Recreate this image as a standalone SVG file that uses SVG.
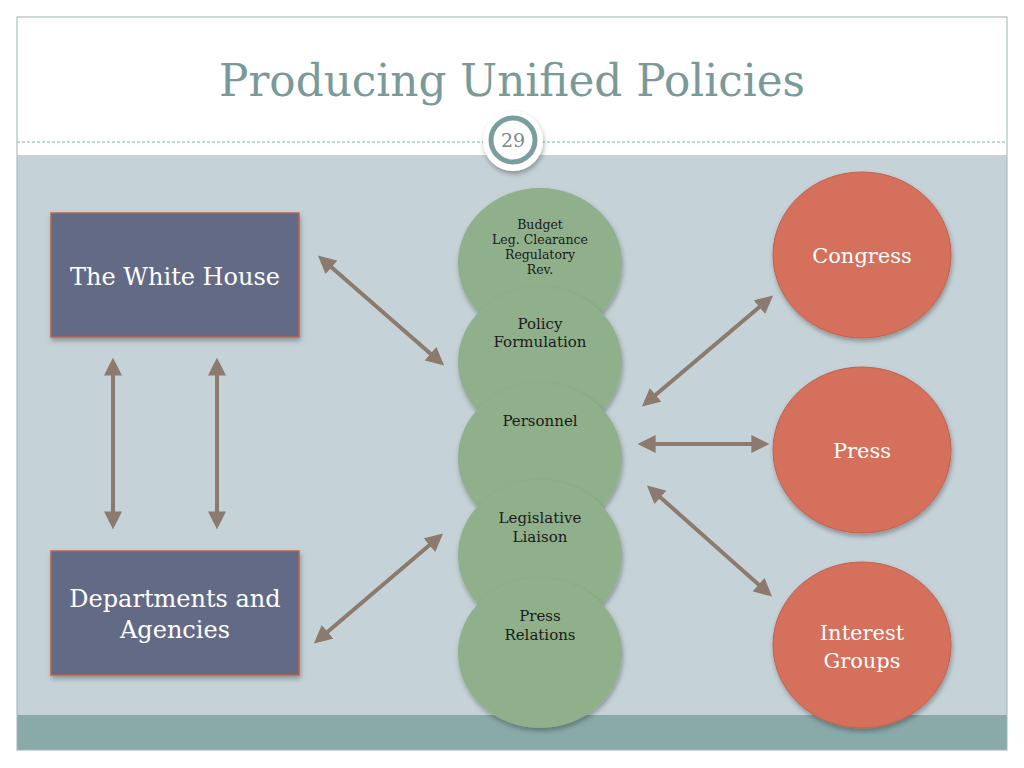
<svg xmlns="http://www.w3.org/2000/svg" width="1024" height="768" viewBox="0 0 1024 768">
<defs>
<style>
.box{fill:#636a86;stroke:#c0614a;stroke-width:1.5}
.green{fill:#8fb08a}
.red{fill:#d4705c;stroke:#c4604c;stroke-width:1}
.gt{font-family:"DejaVu Serif","Noto Serif",serif;fill:#1a1a1a;text-anchor:middle}
.wt{font-family:"DejaVu Serif","Noto Serif",serif;fill:#ffffff;text-anchor:middle}
.conn{stroke:#8c7a6f;stroke-width:4;fill:none;marker-start:url(#ah);marker-end:url(#ah)}
</style>
<marker id="ah" viewBox="0 0 10 10" refX="7" refY="5" markerWidth="4.5" markerHeight="4.5" orient="auto-start-reverse" markerUnits="strokeWidth">
<path d="M0,0 L10,5 L0,10 Z" fill="#8c7a6f"/>
</marker>
<filter id="sh" x="-20%" y="-20%" width="140%" height="140%">
<feDropShadow dx="1" dy="3" stdDeviation="2.5" flood-color="#000" flood-opacity="0.3"/>
</filter>
<filter id="sh2" x="-20%" y="-20%" width="140%" height="140%">
<feDropShadow dx="0" dy="-1" stdDeviation="1.5" flood-color="#000" flood-opacity="0.15"/>
</filter>
</defs>
<rect x="0" y="0" width="1024" height="768" fill="#ffffff"/>
<rect x="17" y="155" width="990" height="560" fill="#c5d3d9"/>
<rect x="17" y="715" width="990" height="35" fill="#8aaaaa"/>
<rect x="17" y="17" width="990" height="733" fill="none" stroke="#9fb5b5" stroke-width="1"/>
<line x1="17" y1="142" x2="1007" y2="142" stroke="#8aaaaa" stroke-width="1" stroke-dasharray="3,2"/>
<text x="512" y="96" font-family="DejaVu Serif, Noto Serif, serif" font-size="44" fill="#7a9a9a" text-anchor="middle" textLength="586" lengthAdjust="spacingAndGlyphs">Producing Unified Policies</text>
<g id="slide-number">
<circle cx="513" cy="141" r="30" fill="#ffffff" filter="url(#sh)"/>
<circle cx="513" cy="140" r="22" fill="#ffffff" stroke="#7a9e9e" stroke-width="5"/>
<text x="513" y="147" font-family="DejaVu Serif, serif" font-size="19" fill="#7a8a8a" text-anchor="middle">29</text>
</g>
<g id="connectors">
<line class="conn" x1="322" y1="259" x2="440" y2="362"/>
<line class="conn" x1="113" y1="363" x2="113" y2="524"/>
<line class="conn" x1="217" y1="363" x2="217" y2="524"/>
<line class="conn" x1="318" y1="640" x2="439" y2="537"/>
<line class="conn" x1="769" y1="299" x2="646" y2="403"/>
<line class="conn" x1="643" y1="444" x2="764" y2="444"/>
<line class="conn" x1="651" y1="489" x2="768" y2="593"/>
</g>
<g id="white-house">
<rect class="box" x="51" y="213" width="248" height="124" filter="url(#sh)"/>
<text class="wt" x="175" y="285" font-size="24">The White House</text>
</g>
<g id="departments">
<rect class="box" x="51" y="551" width="248" height="124" filter="url(#sh)"/>
<text class="wt" x="175" y="607" font-size="24">Departments and</text>
<text class="wt" x="175" y="638" font-size="24">Agencies</text>
</g>
<g id="budget">
<ellipse class="green" cx="540" cy="263" rx="82" ry="75" filter="url(#sh)"/>
<text class="gt" x="540" y="229" font-size="12.5">Budget</text>
<text class="gt" x="540" y="244" font-size="12.5">Leg. Clearance</text>
<text class="gt" x="540" y="259" font-size="12.5">Regulatory</text>
<text class="gt" x="540" y="274" font-size="12.5">Rev.</text>
</g>
<g id="policy-formulation">
<ellipse class="green" cx="540" cy="362" rx="82" ry="75" filter="url(#sh)"/>
<text class="gt" x="540" y="329" font-size="15">Policy</text>
<text class="gt" x="540" y="347" font-size="15">Formulation</text>
</g>
<g id="personnel">
<ellipse class="green" cx="540" cy="458" rx="82" ry="75" filter="url(#sh)"/>
<text class="gt" x="540" y="426" font-size="15">Personnel</text>
</g>
<g id="legislative-liaison">
<ellipse class="green" cx="540" cy="555" rx="82" ry="75" filter="url(#sh)"/>
<text class="gt" x="540" y="523" font-size="15">Legislative</text>
<text class="gt" x="540" y="542" font-size="15">Liaison</text>
</g>
<g id="press-relations">
<ellipse class="green" cx="540" cy="653" rx="82" ry="75" filter="url(#sh)"/>
<text class="gt" x="540" y="621" font-size="15">Press</text>
<text class="gt" x="540" y="640" font-size="15">Relations</text>
</g>
<g id="congress">
<ellipse class="red" cx="862" cy="255" rx="89" ry="83" filter="url(#sh)"/>
<text class="wt" x="862" y="263" font-size="21">Congress</text>
</g>
<g id="press">
<ellipse class="red" cx="862" cy="450" rx="89" ry="83" filter="url(#sh)"/>
<text class="wt" x="862" y="458" font-size="21">Press</text>
</g>
<g id="interest-groups">
<ellipse class="red" cx="862" cy="645" rx="89" ry="83" filter="url(#sh)"/>
<text class="wt" x="862" y="640" font-size="21">Interest</text>
<text class="wt" x="862" y="668" font-size="21">Groups</text>
</g>
</svg>
